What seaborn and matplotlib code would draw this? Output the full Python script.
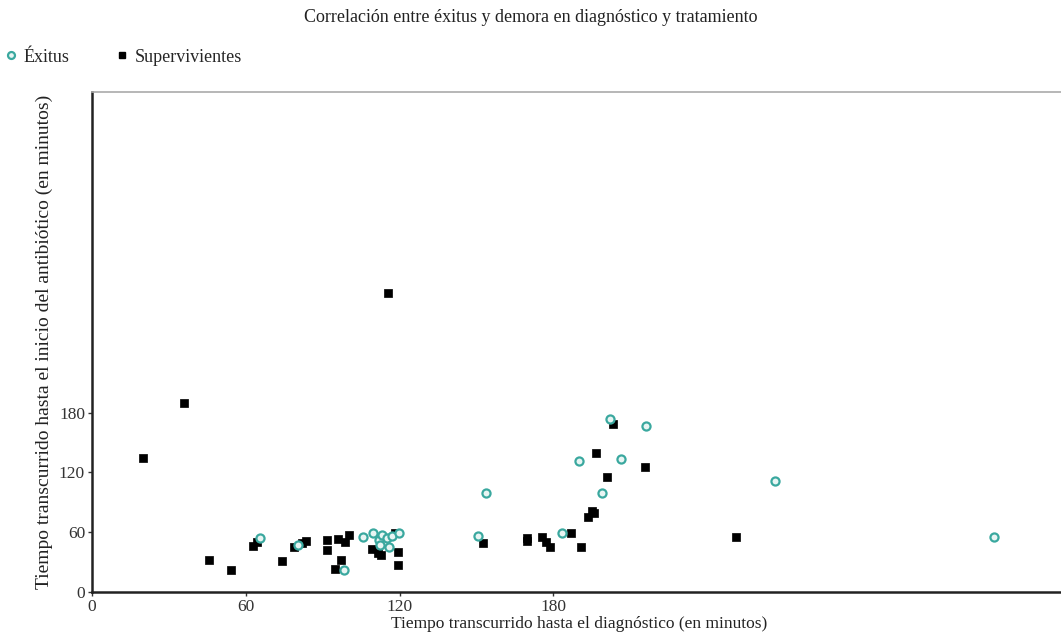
import matplotlib
matplotlib.use("Agg")
import matplotlib.pyplot as plt
from matplotlib.lines import Line2D
import pandas as pd
import seaborn as sns

# Time to diagnosis (x) and time to antibiotic start (y), in minutes
exitus_x = [65.4, 80.4, 98.4, 105.6, 109.5, 111.8, 112.5, 113.2, 115.1, 115.8, 117.1,
            119.7, 150.6, 153.6, 183.3, 190.1, 198.8, 202.1, 206.3, 216.2, 266.5, 352.1]
exitus_y = [54, 47, 22, 55, 59, 52, 47, 57, 54, 45, 56,
            59, 56, 99, 59, 132, 99, 174, 134, 167, 111, 55]

superv_x = [19.9, 35.7, 45.7, 54.2, 62.8, 64.5, 74.1, 78.8, 82.0, 83.4, 91.8, 91.8,
            95.9, 95.0, 97.3, 98.9, 100.2, 109.2, 111.5, 112.8, 118.2, 119.3, 119.4,
            115.4, 152.6, 169.8, 169.8, 175.4, 177.2, 178.6, 187.0, 190.8, 193.6,
            194.9, 195.8, 196.7, 201.0, 203.3, 215.9, 251.2]
superv_y = [135, 190, 32, 22, 46, 50, 31, 45, 49, 51, 52, 42,
            53, 23, 32, 50, 57, 43, 39, 37, 59, 40, 27,
            300, 49, 54, 51, 55, 50, 45, 59, 45, 75,
            81, 79, 140, 115, 169, 126, 55]

x_ticks = [0, 60, 120, 180]
y_ticks = [0, 60, 120, 180]

title = "Correlación entre éxitus y demora en diagnóstico y tratamiento"
x_label = "Tiempo transcurrido hasta el diagnóstico (en minutos)"
y_label = "Tiempo transcurrido hasta el inicio del antibiótico (en minutos)"

teal = "#3aa89f"

sns.set_style("white")
plt.rcParams["font.family"] = ["Liberation Serif", "DejaVu Serif"]

df_ex = pd.DataFrame({"diag": exitus_x, "abx": exitus_y})
df_sv = pd.DataFrame({"diag": superv_x, "abx": superv_y})

fig = plt.figure(figsize=(10.61, 6.4), dpi=100)
ax = fig.add_axes([92 / 1061, 48 / 640, 0.918, 500 / 640])

sns.scatterplot(data=df_sv, x="diag", y="abx", ax=ax, marker="s", color="black",
                s=30, edgecolor="black", linewidth=0.5, zorder=3)
sns.scatterplot(data=df_ex, x="diag", y="abx", ax=ax, marker="o", color="#e8f5f3",
                s=34, edgecolor=teal, linewidth=1.6, zorder=4)

ax.set_xlim(0, 380)
ax.set_ylim(0, 502)
ax.set_xticks(x_ticks)
ax.set_yticks(y_ticks)
ax.set_xlabel(x_label, fontsize=12.5, color="#222222", labelpad=1)
ax.set_ylabel(y_label, fontsize=14, color="#222222", labelpad=4)
ax.tick_params(axis="both", labelsize=12.5, colors="#333333", length=3, width=1,
               direction="out", left=True, bottom=True, pad=2)

for side in ["left", "bottom"]:
    ax.spines[side].set_color("#222222")
    ax.spines[side].set_linewidth(1.8)
ax.spines["top"].set_color("#aaaaaa")
ax.spines["top"].set_linewidth(1.2)
ax.spines["right"].set_visible(False)

fig.text(0.5, 1 - 18 / 640, title, ha="center", va="center", fontsize=13,
         color="#222222")

handles = [
    Line2D([], [], linestyle="none", marker="o", markersize=5, markerfacecolor="#e8f5f3",
           markeredgecolor=teal, markeredgewidth=1.6, label="Éxitus"),
    Line2D([], [], linestyle="none", marker="s", markersize=5, markerfacecolor="black",
           markeredgecolor="black", label="Supervivientes"),
]
fig.legend(handles=handles, loc="center left", bbox_to_anchor=(-0.005, 1 - 57 / 640),
           ncol=2, frameon=False, fontsize=13, handletextpad=0.2, columnspacing=2.4,
           handlelength=1.0, borderaxespad=0)

fig.savefig("out.png", dpi=100)
